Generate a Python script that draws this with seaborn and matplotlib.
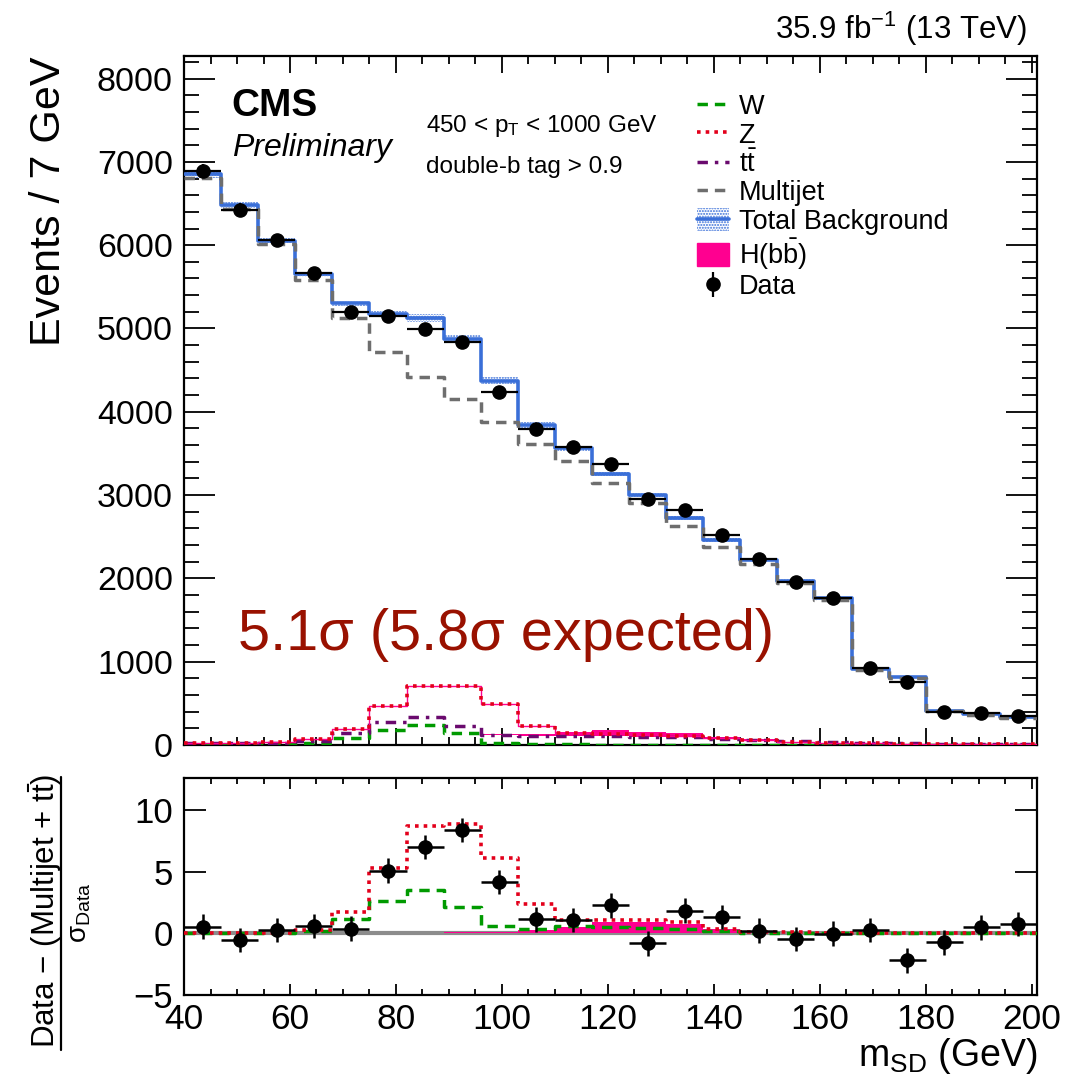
import numpy as np
import pandas as pd
import matplotlib
matplotlib.use("Agg")
import matplotlib.pyplot as plt
import seaborn as sns
from matplotlib.lines import Line2D
from matplotlib.patches import Patch
from matplotlib.legend_handler import HandlerTuple
from matplotlib.ticker import MultipleLocator

# === Binning (7 GeV bins in soft-drop mass) ===
edges = np.arange(40, 202, 7)
centers = edges[:-1] + 3.5

# === Upper panel: events / 7 GeV ===
data = [6890, 6428, 6060, 5668, 5200, 5152, 4996, 4832, 4240, 3788, 3580, 3368,
        2952, 2820, 2520, 2232, 1956, 1760, 920, 756, 400, 384, 348]
total_bkg = [6850, 6480, 6052, 5652, 5300, 5172, 5128, 4876, 4372, 3844, 3560, 3256,
             3000, 2724, 2460, 2220, 1972, 1760, 908, 820, 412, 368, 332]
total_unc = [40, 35, 30, 30, 30, 40, 45, 45, 40, 35, 30, 25,
             25, 20, 20, 15, 15, 15, 10, 10, 8, 8, 8]
multijet = [6810, 6440, 6010, 5580, 5120, 4712, 4412, 4156, 3872, 3612, 3412, 3140,
            2900, 2624, 2372, 2168, 1948, 1740, 900, 810, 408, 362, 328]
zjets = [28, 28, 36, 72, 192, 464, 708, 708, 496, 234, 140, 130,
         120, 104, 80, 64, 40, 28, 20, 16, 12, 10, 8]
ttbar = [20, 20, 28, 44, 150, 272, 336, 228, 120, 110, 108, 104,
         100, 96, 76, 60, 44, 34, 24, 20, 14, 12, 10]
wjets = [6, 6, 8, 24, 80, 184, 244, 140, 28, 10, 8, 6,
         6, 5, 5, 4, 4, 3, 3, 3, 2, 2, 2]
hbb = [0, 0, 0, 0, 0, 0, 0, 0, 8, 18, 45, 72,
       60, 44, 15, 8, 4, 0, 0, 0, 0, 0, 0]

# === Lower panel: (Data - (Multijet + tt)) / sigma_Data ===
pull_data = [0.54, -0.54, 0.27, 0.59, 0.38, 5.08, 7.0, 8.38, 4.16, 1.14, 1.08, 2.27,
             -0.81, 1.84, 1.32, 0.22, -0.46, -0.03, 0.27, -2.2, -0.73, 0.49, 0.76]
pull_z = [0.03, 0.03, 0.05, 0.27, 1.76, 5.27, 8.73, 8.86, 6.1, 2.38, 1.08, 1.1,
          1.1, 0.95, 0.32, 0.13, 0.08, 0.05, 0.04, 0.03, 0.02, 0.02, 0.02]
pull_w = [0.02, 0.02, 0.05, 0.2, 1.16, 2.62, 3.51, 2.1, 0.6, 0.38, 0.62, 0.5,
          0.45, 0.35, 0.15, 0.05, 0.05, 0.04, 0.03, 0.03, 0.02, 0.02, 0.02]
pull_h = [0, 0, 0, 0, 0, 0.02, 0.05, 0.08, 0.12, 0.27, 0.54, 0.95,
          0.95, 0.76, 0.32, 0.13, 0.05, 0.02, 0, 0, 0, 0, 0]

# === Style ===
sns.set_theme(style="ticks")
plt.rcParams["font.family"] = ["Liberation Sans", "DejaVu Sans"]
plt.rcParams["mathtext.fontset"] = "custom"
plt.rcParams["mathtext.rm"] = "Liberation Sans"
plt.rcParams["mathtext.it"] = "Liberation Sans:italic"
plt.rcParams["mathtext.bf"] = "Liberation Sans:bold"
for key in ["text.color", "axes.labelcolor", "xtick.color", "ytick.color", "axes.edgecolor"]:
    plt.rcParams[key] = "black"
plt.rcParams["hatch.color"] = "#3a6fd8"
plt.rcParams["hatch.linewidth"] = 1.0

c_w = "#009a00"
c_z = "#e3001b"
c_tt = "#6a0a6e"
c_qcd = "#6e6e6e"
c_tot = "#3a6fd8"
c_h = "#ff0090"

fig = plt.figure(figsize=(10.8, 10.76), dpi=100)
ax = fig.add_axes([0.1704, 0.3076, 0.7898, 0.6403])
ax2 = fig.add_axes([0.1704, 0.0753, 0.7898, 0.2017])


def stair(vals):
    return np.append(vals, vals[-1])


def step_line(axis, vals, **kw):
    df = pd.DataFrame({"m": edges, "n": stair(vals)})
    sns.lineplot(data=df, x="m", y="n", drawstyle="steps-post", legend=False,
                 ax=axis, **kw)


dash = (0, (3, 2))
dot = (0, (1, 1.4))
dashdot = (0, (3, 2, 1, 2))

# --- upper panel ---
ax.axhline(0, color="#999999", lw=1.2, zorder=1)
ax.fill_between(edges, stair(np.array(total_bkg) - np.array(total_unc)),
                stair(np.array(total_bkg) + np.array(total_unc)), step="post",
                facecolor="none", edgecolor=c_tot, hatch="......", linewidth=0, zorder=2)
ax.fill_between(edges, stair(ttbar), stair(np.array(ttbar) + np.array(hbb)), step="post",
                color=c_h, linewidth=0, zorder=2)
step_line(ax, total_bkg, color=c_tot, linewidth=2.6, zorder=3)
step_line(ax, multijet, color=c_qcd, linewidth=2.5, linestyle=dash, zorder=4)
step_line(ax, wjets, color=c_w, linewidth=2.5, linestyle=dash, zorder=4)
step_line(ax, ttbar, color=c_tt, linewidth=2.5, linestyle=dashdot, zorder=4)
step_line(ax, zjets, color=c_h, linewidth=1.0, zorder=4)
step_line(ax, zjets, color=c_z, linewidth=2.6, linestyle=dot, zorder=5)
ax.errorbar(centers, data, xerr=3.5, yerr=np.sqrt(data), fmt="o", color="black",
            markersize=9.5, elinewidth=1.6, capsize=0, zorder=6)

ax.set_xlim(40, 201)
ax.set_ylim(0, 8270)
ax.yaxis.set_major_locator(MultipleLocator(1000))
ax.yaxis.set_minor_locator(MultipleLocator(200))
ax.xaxis.set_major_locator(MultipleLocator(20))
ax.xaxis.set_minor_locator(MultipleLocator(5))
ax.tick_params(axis="both", which="both", direction="in", top=True, right=True,
               labelbottom=False, width=1.3)
ax.tick_params(axis="y", which="major", length=22, labelsize=24.5, pad=8)
ax.tick_params(axis="y", which="minor", length=11)
ax.tick_params(axis="x", which="major", length=12)
ax.tick_params(axis="x", which="minor", length=6)
ax.set_xlabel("")
ax.set_ylabel("Events / 7 GeV", fontsize=31, loc="top", labelpad=20)
for s in ax.spines.values():
    s.set_linewidth(1.6)

ax.text(0.056, 0.953, "CMS", transform=ax.transAxes, fontsize=28, fontweight="bold",
        va="top", ha="left")
ax.text(0.056, 0.888, "Preliminary", transform=ax.transAxes, fontsize=23,
        style="italic", va="top", ha="left")
ax.text(0.2837, 0.890, r"450 < p$_{\mathregular{T}}$ < 1000 GeV", transform=ax.transAxes,
        fontsize=17.5, va="baseline", ha="left")
ax.text(0.2837, 0.830, "double-b tag > 0.9", transform=ax.transAxes,
        fontsize=17.5, va="baseline", ha="left")
ax.text(0.0633, 0.138, "5.1σ (5.8σ expected)", transform=ax.transAxes, fontsize=41.5,
        color="#991100", va="baseline", ha="left")
ax.text(0.988, 1.025, r"35.9 fb$^{\mathregular{-1}}$ (13 TeV)", transform=ax.transAxes,
        fontsize=22.5, va="baseline", ha="right")

handles = [
    Line2D([], [], color=c_w, lw=2.5, ls=dash),
    Line2D([], [], color=c_z, lw=2.6, ls=dot),
    Line2D([], [], color=c_tt, lw=2.5, ls=dashdot),
    Line2D([], [], color=c_qcd, lw=2.5, ls=dash),
    (Patch(facecolor="none", edgecolor=c_tot, hatch="......", linewidth=0),
     Line2D([], [], color=c_tot, lw=2.6)),
    Patch(facecolor=c_h, edgecolor=c_h),
    (Line2D([], [], color="black", marker="|", ms=18, mew=1.6, ls="none"),
     Line2D([], [], color="black", marker="o", ms=9.5, ls="none")),
]
labels = ["W", "Z", r"$\mathregular{t\bar{t}}$", "Multijet", "Total Background",
          r"H($\mathregular{b\bar{b}}$)", "Data"]
ax.legend(handles, labels, loc="upper left", bbox_to_anchor=(0.585, 0.965),
          frameon=False, fontsize=19.5, handlelength=1.2, handleheight=0.9,
          handletextpad=0.35, labelspacing=0.07, borderpad=0,
          handler_map={tuple: HandlerTuple(ndivide=1)})

# --- lower panel ---
ax2.axhline(0, color="#8c8c8c", lw=3, zorder=1)
ax2.fill_between(edges, 0, stair(pull_h), step="post", color=c_h, linewidth=0, zorder=2)
step_line(ax2, pull_w, color=c_w, linewidth=2.5, linestyle=dash, zorder=3)
step_line(ax2, pull_z, color=c_z, linewidth=2.6, linestyle=dot, zorder=3)
ax2.errorbar(centers, pull_data, xerr=3.5, yerr=1.0, fmt="o", color="black",
             markersize=9.5, elinewidth=1.8, capsize=0, zorder=5)

ax2.set_xlim(40, 201)
ax2.set_ylim(-5, 12.6)
ax2.yaxis.set_major_locator(MultipleLocator(5))
ax2.xaxis.set_major_locator(MultipleLocator(20))
ax2.xaxis.set_minor_locator(MultipleLocator(5))
ax2.tick_params(axis="both", which="both", direction="in", top=True, right=True, width=1.3)
ax2.tick_params(axis="y", which="major", length=16, labelsize=25, pad=8)
ax2.tick_params(axis="x", which="major", length=8, labelsize=25.5, pad=6)
ax2.tick_params(axis="x", which="minor", length=4)
ax2.set_ylabel("")
ax2.set_xlabel(r"m$_{\mathregular{SD}}$ (GeV)", fontsize=27, loc="right", labelpad=0)
for s in ax2.spines.values():
    s.set_linewidth(1.6)

# fraction-style y label of the lower panel
fig.text(45 / 1080, 1 - 911 / 1076, r"Data − (Multijet + $\mathregular{t\bar{t}}$)",
         rotation=90, fontsize=22.5, ha="center", va="center")
fig.add_artist(Line2D([61 / 1080, 61 / 1080], [1 - 1050 / 1076, 1 - 777 / 1076],
                      transform=fig.transFigure, color="black", lw=1.6))
fig.text(80 / 1080, 1 - 913 / 1076, r"$\mathregular{σ_{Data}}$", rotation=90,
         fontsize=20, ha="center", va="center")

fig.savefig("out.png", dpi=100)
